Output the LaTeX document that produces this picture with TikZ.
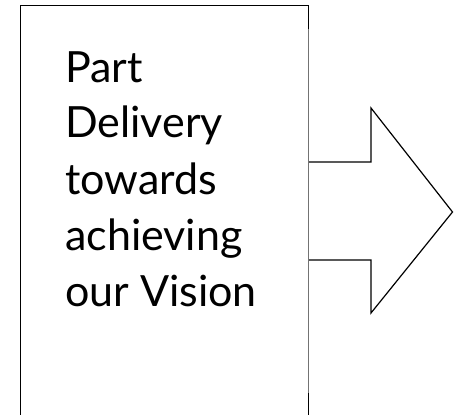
\documentclass[tikz,border=0pt]{standalone}
\usepackage{fontspec}
\setmainfont{Lato}
\tikzset{
  boxline/.style={draw=black, line width=0.8pt},
  sideline/.style={draw=black!55, line width=0.6pt},
  arrowline/.style={draw=black, line width=1.2pt, line join=miter},
  label/.style={anchor=base west, inner sep=0pt, font=\fontsize{43}{56}\selectfont}
}
\begin{document}
\begin{tikzpicture}[x=1pt,y=-1pt]
\useasboundingbox (0,0) rectangle (454,414);
% box
\draw[boxline] (20,416) -- (20,5) -- (308,5) -- (308,29);
\draw[boxline] (308,393) -- (308,416);
\draw[sideline] (308.5,29) -- (308.5,393);
% arrow
\draw[arrowline] (309,162) -- (371,162) -- (371,108) -- (452.5,212) -- (371,313) -- (371,260) -- (309,260);
% text
\node[label] (l1) at (65,83) {Part};
\node[label] (l2) at (65,138) {Delivery};
\node[label] (l3) at (65,194) {towards};
\node[label] (l4) at (65,250) {achieving};
\node[label] (l5) at (65,306) {our Vision};
\end{tikzpicture}
\end{document}
